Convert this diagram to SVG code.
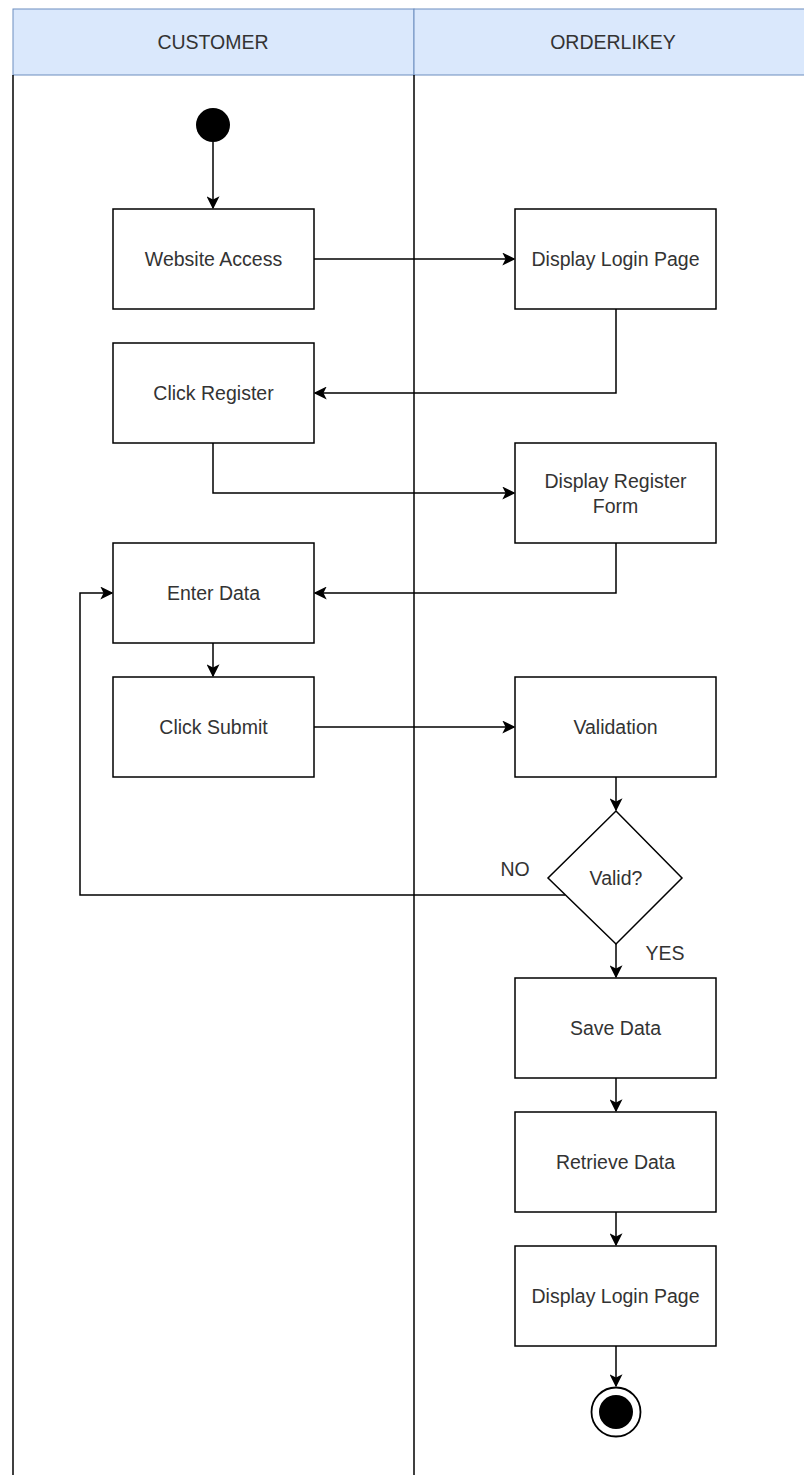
<svg xmlns="http://www.w3.org/2000/svg" width="804" height="1475" viewBox="0 0 804 1475">
  <style>
    .lane-head { fill: #dae8fc; stroke: #6c8ebf; stroke-width: 1; }
    .lane-line { stroke: #000; stroke-width: 1.5; fill: none; }
    .box { fill: #fff; stroke: #000; stroke-width: 1.5; }
    .label { font-family: "Liberation Sans", Arial, sans-serif; font-size: 19.5px; fill: #333; text-anchor: middle; dominant-baseline: central; }
    .edge { stroke: #000; stroke-width: 1.5; fill: none; marker-end: url(#arrow); }
  </style>
  <defs>
    <marker id="arrow" viewBox="0 0 10 10" refX="9" refY="5" markerWidth="13" markerHeight="13" markerUnits="userSpaceOnUse" orient="auto">
      <path d="M0,0 L10,5 L0,10 L2.5,5 Z" fill="#000"/>
    </marker>
  </defs>
  <rect width="804" height="1475" fill="#fff"/>

  <!-- swimlanes -->
  <g id="lane-customer">
    <rect class="lane-head" x="13" y="9" width="401" height="66"/>
    <text class="label" x="213" y="42">CUSTOMER</text>
    <line class="lane-line" x1="13" y1="75" x2="13" y2="1475"/>
  </g>
  <g id="lane-orderlikey">
    <rect class="lane-head" x="414" y="9" width="395" height="66"/>
    <text class="label" x="613" y="42">ORDERLIKEY</text>
    <line class="lane-line" x1="414" y1="75" x2="414" y2="1475"/>
  </g>

  <!-- connectors -->
  <g id="connectors">
    <path class="edge" d="M213,142 V208"/>
    <path class="edge" d="M314,259 H514"/>
    <path class="edge" d="M616,309 V393 H315"/>
    <path class="edge" d="M213,443 V493 H514"/>
    <path class="edge" d="M616,543 V593 H315"/>
    <path class="edge" d="M213,643 V676"/>
    <path class="edge" d="M314,727 H514"/>
    <path class="edge" d="M616,777 V810"/>
    <path class="edge" d="M565,895 H80 V593 H112"/>
    <path class="edge" d="M616,944 V977"/>
    <path class="edge" d="M616,1078 V1111"/>
    <path class="edge" d="M616,1212 V1245"/>
    <path class="edge" d="M616,1346 V1386"/>
    <text class="label" x="515" y="869">NO</text>
    <text class="label" x="665" y="953">YES</text>
  </g>

  <!-- nodes -->
  <g id="start"><circle cx="213" cy="125" r="17" fill="#000"/></g>
  <g id="website-access"><rect class="box" x="113" y="209" width="201" height="100"/><text class="label" x="213.5" y="259">Website Access</text></g>
  <g id="display-login-page"><rect class="box" x="515" y="209" width="201" height="100"/><text class="label" x="615.5" y="259">Display Login Page</text></g>
  <g id="click-register"><rect class="box" x="113" y="343" width="201" height="100"/><text class="label" x="213.5" y="393">Click Register</text></g>
  <g id="display-register-form"><rect class="box" x="515" y="443" width="201" height="100"/><text class="label" x="615.5" y="481">Display Register</text><text class="label" x="615.5" y="506">Form</text></g>
  <g id="enter-data"><rect class="box" x="113" y="543" width="201" height="100"/><text class="label" x="213.5" y="593">Enter Data</text></g>
  <g id="click-submit"><rect class="box" x="113" y="677" width="201" height="100"/><text class="label" x="213.5" y="727">Click Submit</text></g>
  <g id="validation"><rect class="box" x="515" y="677" width="201" height="100"/><text class="label" x="615.5" y="727">Validation</text></g>
  <g id="valid-decision"><polygon class="box" points="616,811 682,878 616,944 548,878"/><text class="label" x="616" y="878">Valid?</text></g>
  <g id="save-data"><rect class="box" x="515" y="978" width="201" height="100"/><text class="label" x="615.5" y="1028">Save Data</text></g>
  <g id="retrieve-data"><rect class="box" x="515" y="1112" width="201" height="100"/><text class="label" x="615.5" y="1162">Retrieve Data</text></g>
  <g id="display-login-page-2"><rect class="box" x="515" y="1246" width="201" height="100"/><text class="label" x="615.5" y="1296">Display Login Page</text></g>
  <g id="end"><circle cx="616" cy="1412" r="24.5" fill="#fff" stroke="#000" stroke-width="1.8"/><circle cx="616" cy="1412" r="17" fill="#000"/></g>
</svg>
